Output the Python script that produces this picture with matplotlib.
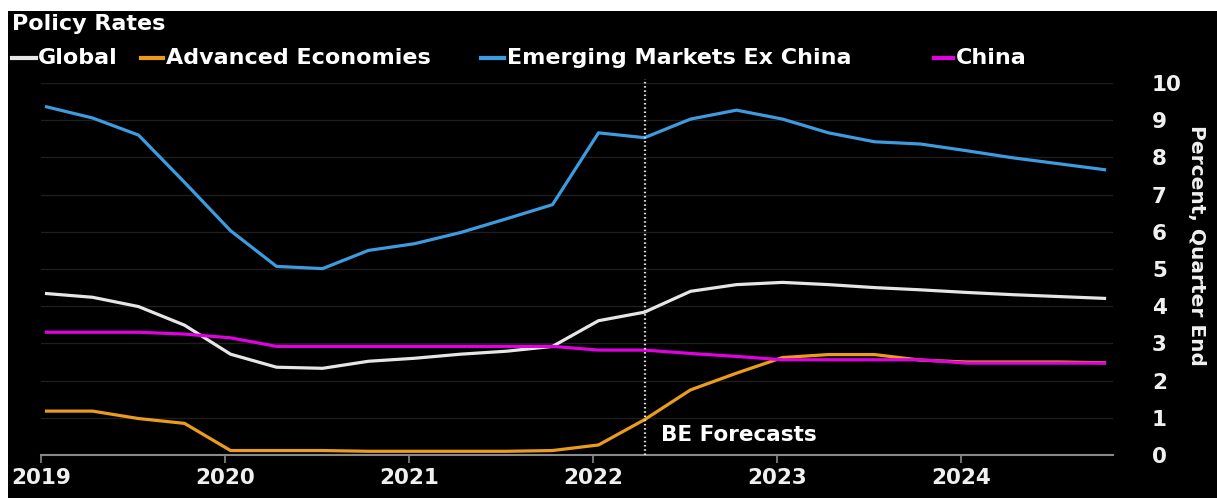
import matplotlib
matplotlib.use("Agg")
import matplotlib.pyplot as plt
from matplotlib.lines import Line2D
from matplotlib.patches import Rectangle

# Quarter-end policy rates, 2019Q1 .. 2024Q4 (forecasts from 2022Q2)
quarters = [f"{y}Q{q}" for y in range(2019, 2025) for q in range(1, 5)]
global_rate = [4.34, 4.24, 3.99, 3.49, 2.71, 2.36, 2.33, 2.52, 2.60, 2.71, 2.79, 2.92,
               3.61, 3.84, 4.40, 4.58, 4.64, 4.58, 4.50, 4.44, 4.37, 4.31, 4.26, 4.21]
advanced = [1.18, 1.18, 0.98, 0.85, 0.12, 0.12, 0.12, 0.10, 0.10, 0.10, 0.10, 0.12,
            0.27, 0.95, 1.75, 2.20, 2.62, 2.70, 2.70, 2.55, 2.50, 2.50, 2.50, 2.48]
em_ex_china = [9.36, 9.06, 8.60, 7.33, 6.03, 5.07, 5.01, 5.50, 5.68, 5.98, 6.35, 6.73,
               8.66, 8.53, 9.03, 9.27, 9.03, 8.66, 8.42, 8.36, 8.18, 7.99, 7.83, 7.67]
china = [3.30, 3.30, 3.30, 3.25, 3.15, 2.92, 2.92, 2.92, 2.92, 2.92, 2.92, 2.92,
         2.82, 2.82, 2.73, 2.65, 2.56, 2.56, 2.56, 2.56, 2.47, 2.47, 2.47, 2.47]
forecast_start = "2022Q2"
year_ticks = [2019, 2020, 2021, 2022, 2023, 2024]
y_ticks = list(range(0, 11))

series = [
    ("Global", global_rate, "#e6e6e6"),
    ("Advanced Economies", advanced, "#eb9c1c"),
    ("Emerging Markets Ex China", em_ex_china, "#3d9be0"),
    ("China", china, "#e000e0"),
]


def quarter_pos(label):
    year, q = label.split("Q")
    return int(year) + (int(q) - 1) * 0.25 + 0.03


x = [quarter_pos(q) for q in quarters]

W, H = 1217, 498
fig = plt.figure(figsize=(W / 100, H / 100), dpi=100, facecolor="black")
# white margin along the top and left edges
fig.patches.append(Rectangle((0, (H - 11) / H), 1, 11 / H, transform=fig.transFigure,
                             facecolor="white", edgecolor="none", zorder=-10))
fig.patches.append(Rectangle((0, 0), 8 / W, 1, transform=fig.transFigure,
                             facecolor="white", edgecolor="none", zorder=-10))

ax = fig.add_axes([41 / W, 43 / H, (1113 - 41) / W, (455 - 83) / H])
ax.set_facecolor("black")
ax.set_xlim(2019, 2019 + (1113 - 41) / 184)
ax.set_ylim(0, 10)

for yv in y_ticks[1:]:
    ax.axhline(yv, color="#1e1e1e", lw=1.0, zorder=1)

for name, vals, color in series:
    ax.plot(x, vals, color=color, lw=2.3, zorder=3, solid_joinstyle="round")

ax.axvline(quarter_pos(forecast_start), ymin=0, ymax=1.01, color="#dddddd",
           lw=1.6, linestyle=(0, (0.7, 1.2)), zorder=4, clip_on=False)
ax.text(quarter_pos(forecast_start) + 0.09, 0.55, "BE Forecasts", color="white",
        fontsize=15.5, fontweight="bold", va="center", ha="left", zorder=5)

for side in ["top", "left", "right"]:
    ax.spines[side].set_visible(False)
ax.spines["bottom"].set_color("#8a8a8a")
ax.spines["bottom"].set_linewidth(1.5)

ax.set_xticks(year_ticks)
ax.set_xticklabels([str(y) for y in year_ticks])
ax.tick_params(axis="x", colors="#8a8a8a", length=6, width=1.2, pad=3,
               labelcolor="#f0f0f0", labelsize=15.5)
for lab in ax.get_xticklabels():
    lab.set_fontweight("bold")

ax.yaxis.tick_right()
ax.set_yticks(y_ticks)
ax.set_yticklabels([str(v) for v in y_ticks])
ax.tick_params(axis="y", length=0, pad=28, labelcolor="#f0f0f0", labelsize=15.5)
for lab in ax.get_yticklabels():
    lab.set_fontweight("bold")
    lab.set_horizontalalignment("left")

fig.text(1197 / W, 1 - 245 / H, "Percent, Quarter End", rotation=270,
         color="#f0f0f0", fontsize=14.5, fontweight="bold",
         ha="center", va="center")

fig.text(12 / W, 1 - 24 / H, "Policy Rates", color="white", fontsize=16,
         fontweight="bold", ha="left", va="center")

legend_pos = [(12, 36, 38), (141, 163, 166), (481, 504, 507), (934, 953, 956)]
ly = 1 - 58 / H
for (name, vals, color), (x0, x1, xt) in zip(series, legend_pos):
    fig.add_artist(Line2D([x0 / W, x1 / W], [ly, ly], transform=fig.transFigure,
                          color=color, lw=3.0))
    fig.text(xt / W, ly, name, color="white", fontsize=16, fontweight="bold",
             ha="left", va="center")

fig.savefig("out.png", dpi=100, facecolor=fig.get_facecolor())
